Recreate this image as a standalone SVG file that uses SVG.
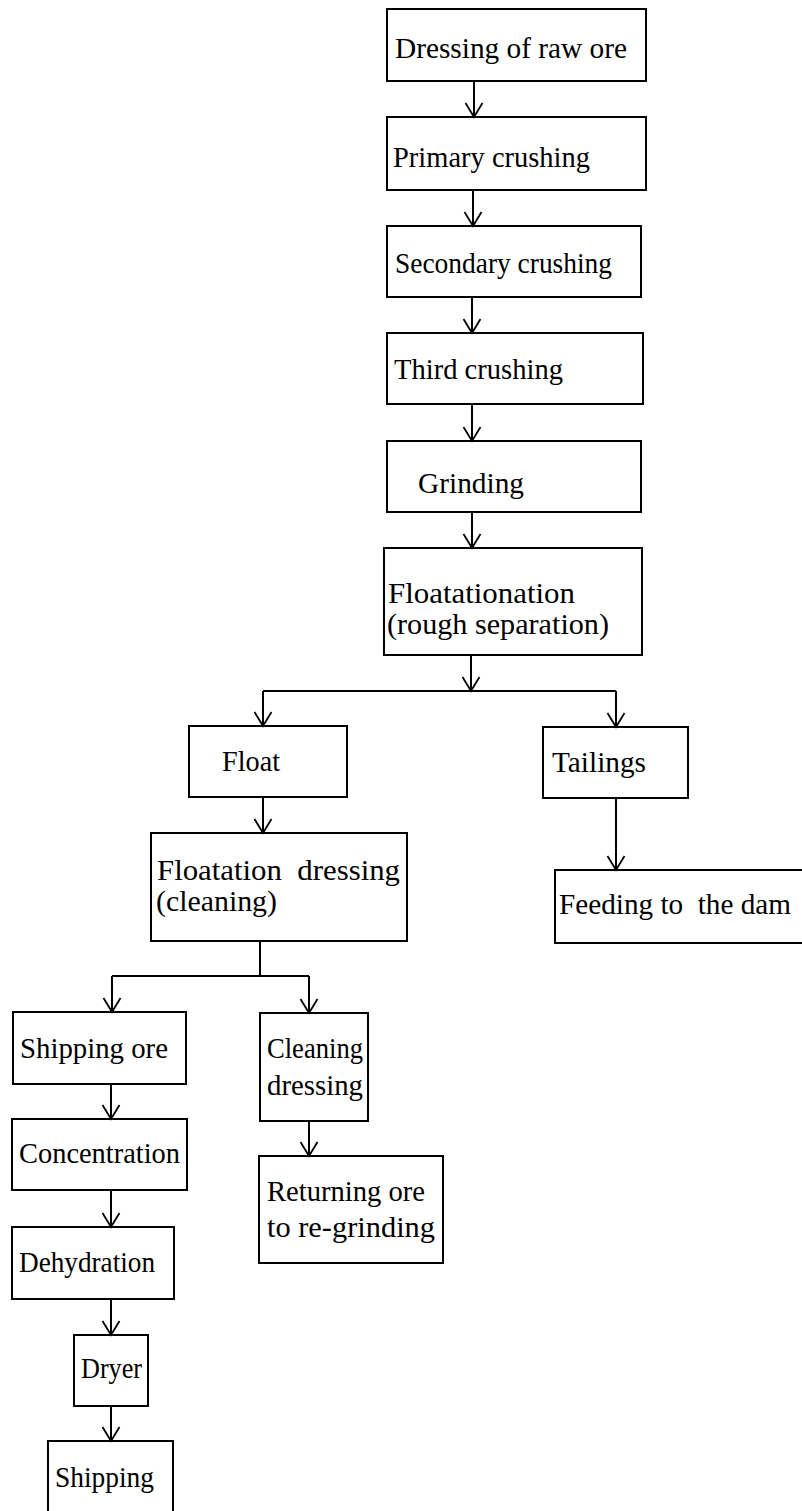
<svg xmlns="http://www.w3.org/2000/svg" width="802" height="1511" viewBox="0 0 802 1511">
  <style>
    .box { fill: #ffffff; stroke: #000000; stroke-width: 2; }
    .lbl { font-family: "Liberation Serif", "DejaVu Serif", serif; font-size: 30px; fill: #000000; white-space: pre; }
    .wire { fill: none; stroke: #000000; stroke-width: 2; }
  </style>
  <defs>
    <marker id="vee" markerUnits="userSpaceOnUse" markerWidth="20" markerHeight="20" refX="0" refY="0" viewBox="-15 -10 17 20" orient="auto" overflow="visible">
      <path d="M-14,-8.5 L0,0 L-14,8.5" fill="none" stroke="#000000" stroke-width="1.8"/>
    </marker>
  </defs>
  <rect width="802" height="1511" fill="#ffffff"/>

  <!-- main crushing / grinding column -->
  <g id="n-raw-ore">
    <rect class="box" x="387" y="9" width="259" height="72"/>
    <text class="lbl" x="395" y="58" textLength="232" lengthAdjust="spacingAndGlyphs">Dressing of raw ore</text>
  </g>
  <g id="n-primary">
    <rect class="box" x="387" y="117" width="259" height="73"/>
    <text class="lbl" x="393" y="167" textLength="197" lengthAdjust="spacingAndGlyphs">Primary crushing</text>
  </g>
  <g id="n-secondary">
    <rect class="box" x="387" y="226" width="254" height="71"/>
    <text class="lbl" x="395" y="273" textLength="217" lengthAdjust="spacingAndGlyphs">Secondary crushing</text>
  </g>
  <g id="n-third">
    <rect class="box" x="387" y="333" width="256" height="71"/>
    <text class="lbl" x="394" y="379" textLength="169" lengthAdjust="spacingAndGlyphs">Third crushing</text>
  </g>
  <g id="n-grinding">
    <rect class="box" x="387" y="441" width="254" height="71"/>
    <text class="lbl" x="418" y="493" textLength="106" lengthAdjust="spacingAndGlyphs">Grinding</text>
  </g>
  <g id="n-rough">
    <rect class="box" x="384" y="548" width="258" height="107"/>
    <text class="lbl" x="388" y="603" textLength="187" lengthAdjust="spacingAndGlyphs">Floatationation</text>
    <text class="lbl" x="387" y="634" textLength="222" lengthAdjust="spacingAndGlyphs">(rough separation)</text>
  </g>

  <!-- split after rough separation -->
  <g id="n-float">
    <rect class="box" x="189" y="726" width="158" height="71"/>
    <text class="lbl" x="222" y="771" textLength="58" lengthAdjust="spacingAndGlyphs">Float</text>
  </g>
  <g id="n-tailings">
    <rect class="box" x="543" y="727" width="145" height="71"/>
    <text class="lbl" x="552" y="772" textLength="94" lengthAdjust="spacingAndGlyphs">Tailings</text>
  </g>
  <g id="n-cleaning-float">
    <rect class="box" x="151" y="833" width="256" height="108"/>
    <text class="lbl" x="157" y="880" textLength="243" lengthAdjust="spacingAndGlyphs" xml:space="preserve">Floatation  dressing</text>
    <text class="lbl" x="156" y="911" textLength="121" lengthAdjust="spacingAndGlyphs">(cleaning)</text>
  </g>
  <g id="n-dam">
    <rect class="box" x="555" y="870" width="260" height="73"/>
    <text class="lbl" x="559" y="914" textLength="232" lengthAdjust="spacingAndGlyphs" xml:space="preserve">Feeding to  the dam</text>
  </g>

  <!-- concentrate line -->
  <g id="n-shipping-ore">
    <rect class="box" x="13" y="1012" width="173" height="72"/>
    <text class="lbl" x="20" y="1058" textLength="148" lengthAdjust="spacingAndGlyphs">Shipping ore</text>
  </g>
  <g id="n-cleaning-dressing">
    <rect class="box" x="260" y="1013" width="108" height="108"/>
    <text class="lbl" x="267" y="1058" textLength="96" lengthAdjust="spacingAndGlyphs">Cleaning</text>
    <text class="lbl" x="267" y="1095" textLength="96" lengthAdjust="spacingAndGlyphs">dressing</text>
  </g>
  <g id="n-concentration">
    <rect class="box" x="12" y="1119" width="175" height="71"/>
    <text class="lbl" x="19" y="1163" textLength="161" lengthAdjust="spacingAndGlyphs">Concentration</text>
  </g>
  <g id="n-regrind">
    <rect class="box" x="259" y="1156" width="184" height="107"/>
    <text class="lbl" x="267" y="1201" textLength="158" lengthAdjust="spacingAndGlyphs">Returning ore</text>
    <text class="lbl" x="267" y="1237" textLength="168" lengthAdjust="spacingAndGlyphs">to re-grinding</text>
  </g>
  <g id="n-dehydration">
    <rect class="box" x="12" y="1227" width="162" height="72"/>
    <text class="lbl" x="19" y="1272" textLength="136" lengthAdjust="spacingAndGlyphs">Dehydration</text>
  </g>
  <g id="n-dryer">
    <rect class="box" x="74" y="1335" width="74" height="71"/>
    <text class="lbl" x="81" y="1378" textLength="61" lengthAdjust="spacingAndGlyphs">Dryer</text>
  </g>
  <g id="n-shipping">
    <rect class="box" x="48" y="1441" width="125" height="80"/>
    <text class="lbl" x="55" y="1487" textLength="99" lengthAdjust="spacingAndGlyphs">Shipping</text>
  </g>

  <!-- connectors -->
  <g id="connectors">
    <path class="wire" d="M474,81 V117" marker-end="url(#vee)"/>
    <path class="wire" d="M473,190 V226" marker-end="url(#vee)"/>
    <path class="wire" d="M472,297 V333" marker-end="url(#vee)"/>
    <path class="wire" d="M472,404 V441" marker-end="url(#vee)"/>
    <path class="wire" d="M472,512 V548" marker-end="url(#vee)"/>
    <path class="wire" d="M471,655 V691" marker-end="url(#vee)"/>
    <path class="wire" d="M263,691 H616"/>
    <path class="wire" d="M263,691 V726" marker-end="url(#vee)"/>
    <path class="wire" d="M616,691 V727" marker-end="url(#vee)"/>
    <path class="wire" d="M263,797 V833" marker-end="url(#vee)"/>
    <path class="wire" d="M616,798 V870" marker-end="url(#vee)"/>
    <path class="wire" d="M260,941 V976"/>
    <path class="wire" d="M112,976 H309"/>
    <path class="wire" d="M112,976 V1012" marker-end="url(#vee)"/>
    <path class="wire" d="M309,976 V1013" marker-end="url(#vee)"/>
    <path class="wire" d="M111,1084 V1119" marker-end="url(#vee)"/>
    <path class="wire" d="M111,1190 V1227" marker-end="url(#vee)"/>
    <path class="wire" d="M111,1299 V1335" marker-end="url(#vee)"/>
    <path class="wire" d="M111,1406 V1441" marker-end="url(#vee)"/>
    <path class="wire" d="M309,1121 V1156" marker-end="url(#vee)"/>
  </g>
</svg>
